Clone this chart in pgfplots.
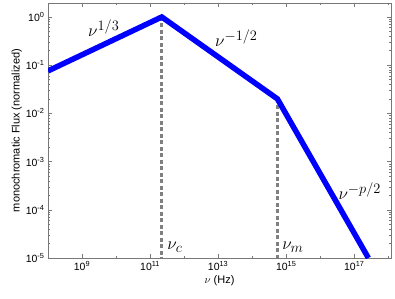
\documentclass[border=0pt]{standalone}
\usepackage{pgfplots}
\pgfplotsset{compat=1.18}
\usepackage{fontspec}
\setmainfont{Liberation Sans}
\definecolor{dashgray}{RGB}{128,128,128}
\definecolor{axgray}{RGB}{120,120,120}
\begin{document}
\begin{tikzpicture}
\begin{axis}[
  at={(0,0)}, anchor=south west,
  scale only axis, width=343pt, height=255pt,
  xmode=log, ymode=log,
  xmin=1e8, xmax=1.2e18, ymin=1e-5, ymax=1.95,
  axis line style={axgray, line width=0.8pt},
  tick align=inside,
  major tick length=4pt, minor tick length=2pt,
  tick style={axgray, line width=0.5pt},
  xtick={1e9,1e11,1e13,1e15,1e17},
  xticklabels={10\textsuperscript{9},10\textsuperscript{11},10\textsuperscript{13},10\textsuperscript{15},10\textsuperscript{17}},
  minor xtick={1e8,1e10,1e12,1e14,1e16,1e18},
  ytick={1e-5,1e-4,1e-3,1e-2,1e-1,1},
  yticklabels={10\textsuperscript{-5},10\textsuperscript{-4},10\textsuperscript{-3},10\textsuperscript{-2},10\textsuperscript{-1},10\textsuperscript{0}},
  ticklabel style={font=\fontsize{10.5}{12}\selectfont},
  xlabel={$\nu$ (Hz)},
  ylabel={monochromatic Flux (normalized)},
  label style={font=\fontsize{11}{13}\selectfont},
  xlabel style={yshift=2pt},
  ylabel style={yshift=-3pt},
  clip=true,
]
\addplot[draw=dashgray, line width=2.6pt, dash pattern=on 4pt off 2.5pt] coordinates {(2.2e11,1) (2.2e11,1e-5)};
\addplot[draw=dashgray, line width=2.6pt, dash pattern=on 4pt off 2.5pt] coordinates {(5.5e14,0.02) (5.5e14,1e-5)};
\addplot[draw=blue, line width=5.5pt, line join=miter] coordinates {
 (1e8,0.076) (2.2e11,1) (5.5e14,0.02) (2.6e17,1e-5)};
\node[anchor=base west, inner sep=0pt, font=\fontsize{19}{22}\selectfont] at (axis cs:1.5e9,0.385) {$\nu^{1/3}$};
\node[anchor=base west, inner sep=0pt, font=\fontsize{19}{22}\selectfont] at (axis cs:8.1e12,0.24) {$\nu^{-1/2}$};
\node[anchor=base west, inner sep=0pt, font=\fontsize{19}{22}\selectfont] at (axis cs:3.4e16,1.6e-4) {$\nu^{-p/2}$};
\node[anchor=base west, inner sep=0pt, font=\fontsize{19}{22}\selectfont] at (axis cs:3.2e11,1.47e-5) {$\nu_c$};
\node[anchor=base west, inner sep=0pt, font=\fontsize{19}{22}\selectfont] at (axis cs:7.6e14,1.47e-5) {$\nu_m$};
\end{axis}
\path[use as bounding box] (-48pt,-40pt) rectangle (347pt,258pt);
\end{tikzpicture}
\end{document}
